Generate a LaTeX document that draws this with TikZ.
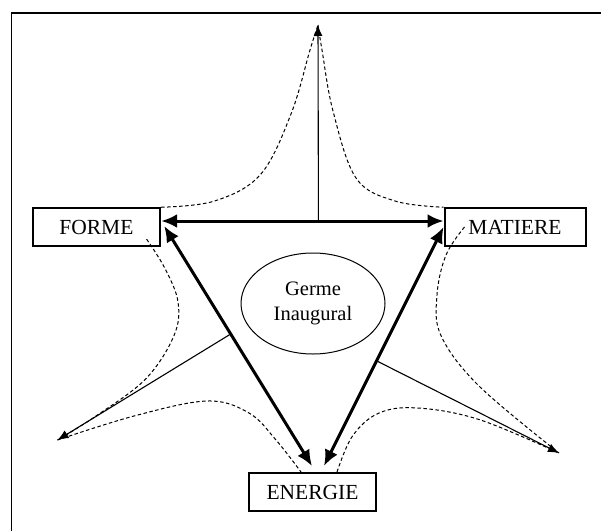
\documentclass[tikz,border=0pt]{standalone}
\usepackage{fontspec}
\setmainfont{Liberation Serif}
\usetikzlibrary{arrows.meta,shapes.geometric}
\tikzset{
  box/.style={draw,line width=2pt,inner sep=0pt,font=\fontsize{21.5}{24}\selectfont},
  germ/.style={draw,ellipse,line width=1pt,inner sep=0pt,align=center,font=\fontsize{20.5}{25}\selectfont},
  bigarrow/.style={line width=3pt,{Latex[length=16pt,width=14pt]}-{Latex[length=16pt,width=14pt]}},
  thinarrow/.style={line width=1.1pt,-{Latex[length=11pt,width=9pt]}},
  dashcurve/.style={line width=1pt,dash pattern=on 3.5pt off 2.5pt},
  frame/.style={line width=1.8pt}
}
\begin{document}
\begin{tikzpicture}[x=1pt,y=-1pt]
\useasboundingbox (0,0) rectangle (601,530);
\fill[white] (0,0) rectangle (601,530);
\draw[frame] (11.5,13) rectangle (620,550);

\node[box,minimum width=127.6pt,minimum height=37.5pt] (F) at (96.4,227) {FORME};
\node[box,minimum width=141pt,minimum height=37.5pt] (M) at (515,227) {MATIERE};
\node[box,minimum width=127pt,minimum height=38pt] (E) at (312.5,492) {ENERGIE};
\node[germ,minimum width=144pt,minimum height=101pt] (G) at (313,303.5) {Germe\\Inaugural};

\coordinate (T) at (318,25);
\coordinate (L) at (57.5,440);
\coordinate (R) at (559,453);
\coordinate (Eal) at (312,466);
\coordinate (Ear) at (324,466);

% horizontal double arrow
\draw[bigarrow] ([yshift=6pt]F.east) -- ([yshift=6pt]M.west) coordinate[pos=0.557] (hm);
\draw[thinarrow] (hm) -- (T);

% diagonals
\draw[bigarrow] ([shift={(3,-1)}]F.east) -- (Eal) coordinate[pos=0.45] (lm);
\draw[bigarrow] (M.west) -- (Ear) coordinate[pos=0.56] (rm);
\draw[thinarrow] (lm) -- (L);
\draw[thinarrow] (rm) -- (R);

% dashed curves
\draw[dashcurve] plot[smooth,tension=0.6] coordinates {(F.north east) (214.6,201) (260.5,174.5) (291,114) (310,50) (T)};
\draw[dashcurve] plot[smooth,tension=0.6] coordinates {(T) (322,50) (333,111) (356,178) (395,201) (M.north west)};
\draw[dashcurve] plot[smooth,tension=0.6] coordinates {([shift={(-14.6,-7.6)}]F.south east) (165,268.5) (178,302) (174,335.6) (145.6,379) (96,416) (L)};
\draw[dashcurve] plot[smooth,tension=0.6] coordinates {(L) (134,416) (207,401) (249,413) (276,440) ([xshift=-11.5pt]E.north)};
\draw[dashcurve] plot[smooth,tension=0.6] coordinates {([xshift=24.5pt]E.north) (352.5,436) (379,413) (417.6,408) (479,419.5) (R)};
\draw[dashcurve] plot[smooth,tension=0.6] coordinates {([xshift=21pt]M.west) (446,255) (437,295) (441,335.6) (479,386) (R)};
\end{tikzpicture}
\end{document}
